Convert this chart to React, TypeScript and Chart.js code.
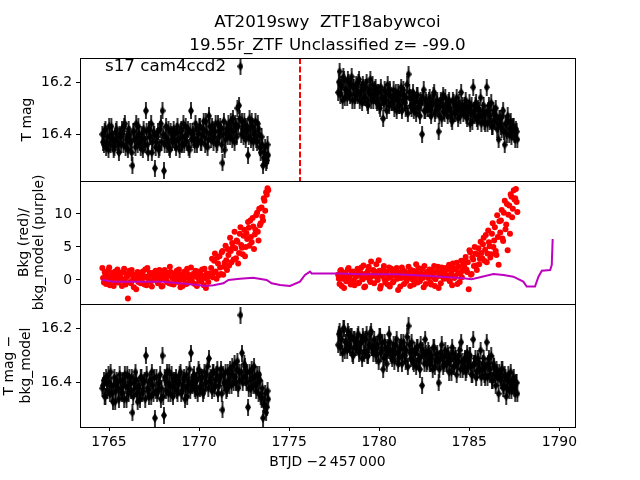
import React, { useEffect, useRef } from "react";
import { Chart, registerables } from "chart.js";

Chart.register(...registerables);

// ---------------- data ----------------
const TITLE_LINES = ["AT2019swy  ZTF18abywcoi", "19.55r_ZTF Unclassified z= -99.0"];
const SECTOR_LABEL = "s17 cam4ccd2";
const X_LABEL = "BTJD \u22122\u2009457\u2009000";
const Y1_LABEL = "T mag";
const Y2_LABEL = ["Bkg (red)/", "bkg_model (purple)"];
const Y3_LABEL = ["T mag \u2212", "bkg_model"];

const X_TICKS = [1765, 1770, 1775, 1780, 1785, 1790];
const MAG_TICKS = [16.2, 16.4];
const BKG_TICKS = [0, 5, 10];
const DISCOVERY_T = 1775.6;

// orbit 1 timestamps (two interleaved cadence sets)
const T_SEG1 = [
  1764.63, 1764.72, 1764.80, 1764.88, 1764.97, 1765.05, 1765.13, 1765.22, 1765.30, 1765.38, 1765.47, 1765.55,
  1765.63, 1765.72, 1765.80, 1765.88, 1765.97, 1766.05, 1766.13, 1766.22, 1766.30, 1766.38, 1766.47, 1766.55,
  1766.63, 1766.72, 1766.80, 1766.88, 1766.97, 1767.05, 1767.13, 1767.22, 1767.30, 1767.38, 1767.47, 1767.55,
  1767.63, 1767.72, 1767.80, 1767.88, 1767.97, 1768.05, 1768.13, 1768.22, 1768.30, 1768.38, 1768.47, 1768.55,
  1768.63, 1768.72, 1768.80, 1768.88, 1768.97, 1769.05, 1769.13, 1769.22, 1769.30, 1769.38, 1769.47, 1769.55,
  1769.63, 1769.72, 1769.80, 1769.88, 1769.97, 1770.05, 1770.13, 1770.22, 1770.30, 1770.38, 1770.47, 1770.55,
  1770.63, 1770.72, 1770.80, 1770.88, 1770.97, 1771.05, 1771.13, 1771.22, 1771.30, 1771.38, 1771.47, 1771.55,
  1771.63, 1771.72, 1771.80, 1771.88, 1771.97, 1772.05, 1772.13, 1772.22, 1772.30, 1772.38, 1772.47, 1772.55,
  1772.63, 1772.72, 1772.80, 1772.88, 1772.97, 1773.05, 1773.13, 1773.22, 1773.30, 1773.38, 1773.47, 1773.55,
  1773.63, 1773.72, 1773.80,
];
const T_SEG1_B = [
  1764.67, 1764.76, 1764.84, 1764.92, 1765.01, 1765.09, 1765.17, 1765.26, 1765.34, 1765.42, 1765.51, 1765.59,
  1765.67, 1765.76, 1765.84, 1765.92, 1766.01, 1766.09, 1766.17, 1766.26, 1766.34, 1766.42, 1766.51, 1766.59,
  1766.67, 1766.76, 1766.84, 1766.92, 1767.01, 1767.09, 1767.17, 1767.26, 1767.34, 1767.42, 1767.51, 1767.59,
  1767.67, 1767.76, 1767.84, 1767.92, 1768.01, 1768.09, 1768.17, 1768.26, 1768.34, 1768.42, 1768.51, 1768.59,
  1768.67, 1768.76, 1768.84, 1768.92, 1769.01, 1769.09, 1769.17, 1769.26, 1769.34, 1769.42, 1769.51, 1769.59,
  1769.67, 1769.76, 1769.84, 1769.92, 1770.01, 1770.09, 1770.17, 1770.26, 1770.34, 1770.42, 1770.51, 1770.59,
  1770.67, 1770.76, 1770.84, 1770.92, 1771.01, 1771.09, 1771.17, 1771.26, 1771.34, 1771.42, 1771.51, 1771.59,
  1771.67, 1771.76, 1771.84, 1771.92, 1772.01, 1772.09, 1772.17, 1772.26, 1772.34, 1772.42, 1772.51, 1772.59,
  1772.67, 1772.76, 1772.84, 1772.92, 1773.01, 1773.09, 1773.17, 1773.26, 1773.34, 1773.42, 1773.51, 1773.59,
  1773.67, 1773.76, 1773.84,
];

// orbit 2 timestamps
const T_SEG2 = [
  1777.72, 1777.80, 1777.88, 1777.97, 1778.05, 1778.13, 1778.22, 1778.30, 1778.38, 1778.47, 1778.55, 1778.63,
  1778.72, 1778.80, 1778.88, 1778.97, 1779.05, 1779.13, 1779.22, 1779.30, 1779.38, 1779.47, 1779.55, 1779.63,
  1779.72, 1779.80, 1779.88, 1779.97, 1780.05, 1780.13, 1780.22, 1780.30, 1780.38, 1780.47, 1780.55, 1780.63,
  1780.72, 1780.80, 1780.88, 1780.97, 1781.05, 1781.13, 1781.22, 1781.30, 1781.38, 1781.47, 1781.55, 1781.63,
  1781.72, 1781.80, 1781.88, 1781.97, 1782.05, 1782.13, 1782.22, 1782.30, 1782.38, 1782.47, 1782.55, 1782.63,
  1782.72, 1782.80, 1782.88, 1782.97, 1783.05, 1783.13, 1783.22, 1783.30, 1783.38, 1783.47, 1783.55, 1783.63,
  1783.72, 1783.80, 1783.88, 1783.97, 1784.05, 1784.13, 1784.22, 1784.30, 1784.38, 1784.47, 1784.55, 1784.63,
  1784.72, 1784.80, 1784.88, 1784.97, 1785.05, 1785.13, 1785.22, 1785.30, 1785.38, 1785.47, 1785.55, 1785.63,
  1785.72, 1785.80, 1785.88, 1785.97, 1786.05, 1786.13, 1786.22, 1786.30, 1786.38, 1786.47, 1786.55, 1786.63,
  1786.72, 1786.80, 1786.88, 1786.97, 1787.05, 1787.13, 1787.22, 1787.30, 1787.38, 1787.47, 1787.55, 1787.63,
];
const T_SEG2_B = [
  1777.76, 1777.84, 1777.92, 1778.01, 1778.09, 1778.17, 1778.26, 1778.34, 1778.42, 1778.51, 1778.59, 1778.67,
  1778.76, 1778.84, 1778.92, 1779.01, 1779.09, 1779.17, 1779.26, 1779.34, 1779.42, 1779.51, 1779.59, 1779.67,
  1779.76, 1779.84, 1779.92, 1780.01, 1780.09, 1780.17, 1780.26, 1780.34, 1780.42, 1780.51, 1780.59, 1780.67,
  1780.76, 1780.84, 1780.92, 1781.01, 1781.09, 1781.17, 1781.26, 1781.34, 1781.42, 1781.51, 1781.59, 1781.67,
  1781.76, 1781.84, 1781.92, 1782.01, 1782.09, 1782.17, 1782.26, 1782.34, 1782.42, 1782.51, 1782.59, 1782.67,
  1782.76, 1782.84, 1782.92, 1783.01, 1783.09, 1783.17, 1783.26, 1783.34, 1783.42, 1783.51, 1783.59, 1783.67,
  1783.76, 1783.84, 1783.92, 1784.01, 1784.09, 1784.17, 1784.26, 1784.34, 1784.42, 1784.51, 1784.59, 1784.67,
  1784.76, 1784.84, 1784.92, 1785.01, 1785.09, 1785.17, 1785.26, 1785.34, 1785.42, 1785.51, 1785.59, 1785.67,
  1785.76, 1785.84, 1785.92, 1786.01, 1786.09, 1786.17, 1786.26, 1786.34, 1786.42, 1786.51, 1786.59, 1786.67,
  1786.76, 1786.84, 1786.92, 1787.01, 1787.09, 1787.17, 1787.26, 1787.34, 1787.42, 1787.51, 1787.59, 1787.67,
];

// panel 1: T mag
const MAG_SEG1 = [
  16.40, 16.44, 16.38, 16.43, 16.46, 16.41, 16.37, 16.42, 16.45, 16.39, 16.43, 16.47,
  16.41, 16.38, 16.44, 16.36, 16.42, 16.46, 16.40, 16.43, 16.52, 16.39, 16.45, 16.41,
  16.37, 16.43, 16.40, 16.46, 16.42, 16.31, 16.44, 16.38, 16.41, 16.47, 16.39, 16.53,
  16.43, 16.39, 16.45, 16.36, 16.31, 16.54, 16.41, 16.44, 16.38, 16.46, 16.40, 16.42,
  16.40, 16.45, 16.37, 16.42, 16.39, 16.44, 16.36, 16.41, 16.43, 16.38, 16.46, 16.31,
  16.39, 16.42, 16.36, 16.44, 16.40, 16.37, 16.43, 16.38, 16.41, 16.35, 16.45, 16.33,
  16.40, 16.37, 16.43, 16.39, 16.44, 16.36, 16.41, 16.38, 16.51, 16.35, 16.42, 16.39,
  16.36, 16.41, 16.38, 16.34, 16.43, 16.37, 16.30, 16.29, 16.14, 16.35, 16.41, 16.37,
  16.39, 16.48, 16.34, 16.42, 16.37, 16.40, 16.35, 16.43, 16.38, 16.45, 16.41, 16.52,
  16.47, 16.51, 16.44,
];
const MAG_SEG1_B = [
  16.43, 16.39, 16.45, 16.41, 16.37, 16.44, 16.40, 16.46, 16.42, 16.38, 16.44, 16.40,
  16.44, 16.40, 16.37, 16.45, 16.41, 16.38, 16.43, 16.47, 16.39, 16.42, 16.36, 16.44,
  16.40, 16.45, 16.42, 16.38, 16.44, 16.39, 16.47, 16.41, 16.36, 16.43, 16.40, 16.45,
  16.41, 16.46, 16.38, 16.43, 16.40, 16.44, 16.37, 16.42, 16.45, 16.39, 16.43, 16.38,
  16.43, 16.39, 16.42, 16.46, 16.38, 16.41, 16.44, 16.37, 16.40, 16.45, 16.39, 16.42,
  16.40, 16.44, 16.38, 16.42, 16.37, 16.43, 16.40, 16.35, 16.44, 16.39, 16.42, 16.37,
  16.42, 16.38, 16.41, 16.36, 16.43, 16.39, 16.37, 16.44, 16.40, 16.46, 16.38, 16.41,
  16.38, 16.35, 16.42, 16.39, 16.36, 16.41, 16.37, 16.34, 16.40, 16.38, 16.35, 16.42,
  16.37, 16.41, 16.38, 16.35, 16.43, 16.39, 16.42, 16.36, 16.40, 16.47, 16.44, 16.49,
  16.45, 16.50, 16.48,
];
const MAG_SEG2 = [
  16.24, 16.16, 16.21, 16.27, 16.19, 16.23, 16.26, 16.20, 16.25, 16.18, 16.22, 16.27,
  16.21, 16.25, 16.19, 16.24, 16.28, 16.22, 16.26, 16.20, 16.29, 16.23, 16.27, 16.21,
  16.25, 16.22, 16.28, 16.24, 16.30, 16.26, 16.34, 16.23, 16.27, 16.21, 16.29, 16.25,
  16.28, 16.23, 16.26, 16.31, 16.24, 16.29, 16.22, 16.27, 16.25, 16.30, 16.21, 16.17,
  16.26, 16.30, 16.24, 16.28, 16.32, 16.25, 16.29, 16.27, 16.40, 16.23, 16.31, 16.28,
  16.30, 16.26, 16.33, 16.28, 16.24, 16.31, 16.27, 16.39, 16.29, 16.34, 16.25, 16.32,
  16.29, 16.33, 16.27, 16.31, 16.35, 16.28, 16.32, 16.26, 16.34, 16.30, 16.24, 16.29,
  16.31, 16.27, 16.34, 16.30, 16.36, 16.29, 16.22, 16.33, 16.28, 16.35, 16.31, 16.26,
  16.33, 16.29, 16.36, 16.22, 16.31, 16.35, 16.28, 16.37, 16.32, 16.30, 16.38, 16.42,
  16.34, 16.38, 16.31, 16.44, 16.36, 16.33, 16.40, 16.35, 16.39, 16.37, 16.42, 16.39,
];
const MAG_SEG2_B = [
  16.20, 16.25, 16.22, 16.18, 16.26, 16.23, 16.19, 16.24, 16.21, 16.27, 16.22, 16.25,
  16.24, 16.20, 16.27, 16.23, 16.21, 16.26, 16.22, 16.28, 16.24, 16.19, 16.25, 16.27,
  16.23, 16.27, 16.24, 16.29, 16.22, 16.26, 16.28, 16.24, 16.31, 16.25, 16.23, 16.28,
  16.26, 16.30, 16.24, 16.27, 16.29, 16.25, 16.31, 16.23, 16.28, 16.26, 16.32, 16.24,
  16.29, 16.26, 16.31, 16.27, 16.25, 16.30, 16.33, 16.28, 16.26, 16.31, 16.27, 16.30,
  16.27, 16.31, 16.29, 16.25, 16.32, 16.28, 16.30, 16.33, 16.27, 16.29, 16.31, 16.26,
  16.31, 16.28, 16.30, 16.34, 16.27, 16.32, 16.29, 16.31, 16.28, 16.33, 16.30, 16.32,
  16.29, 16.33, 16.30, 16.28, 16.32, 16.35, 16.31, 16.29, 16.34, 16.30, 16.33, 16.36,
  16.31, 16.35, 16.32, 16.36, 16.29, 16.33, 16.37, 16.31, 16.35, 16.33, 16.36, 16.34,
  16.37, 16.33, 16.39, 16.36, 16.40, 16.35, 16.38, 16.41, 16.37, 16.40, 16.38, 16.42,
];

// panel 2: background (red points)
const BKG_SEG1 = [
  1.8, -0.4, 0.9, 0.2, 1.5, -0.8, 0.5, 1.1, -0.2, 0.7, 1.6, 0.0,
  0.4, -0.9, 1.2, 0.1, 0.6, -2.8, 1.4, -0.5, 0.8, -1.1, 0.3, 1.0,
  -0.3, 0.9, 0.2, 1.3, -0.7, 0.5, 1.8, -0.1, 0.7, -1.0, 1.1, 0.4,
  0.8, -0.5, 1.5, 0.1, -0.9, 0.6, 1.2, -0.3, 0.9, 2.0, -0.6, 0.3,
  1.0, -0.2, 0.5, 1.6, -1.1, 0.7, 0.0, 1.3, -0.6, 0.9, 0.2, 1.9,
  -0.4, 0.8, 1.4, -0.9, 0.3, 1.1, -0.2, 0.6, 1.7, -1.2, 0.4, 1.0,
  0.6, 3.2, 1.1, 4.0, 0.2, 2.5, 3.6, 0.9, 4.4, 2.0, 5.2, 1.5,
  3.8, 6.4, 2.7, 5.0, 7.3, 3.3, 5.8, 4.1, 8.0, 4.9, 6.7, 3.6,
  7.1, 8.8, 5.2, 6.5, 9.4, 4.7, 7.6, 10.2, 6.0, 8.3, 11.0, 9.0,
  12.0, 13.3, 13.9,
];
const BKG_SEG1_B = [
  0.3, 1.2, -0.6, 0.8, 1.9, -0.1, 0.6, -0.9, 1.3, 0.4, -0.4, 0.9,
  1.1, 0.0, 1.7, -0.7, 0.5, 1.0, -0.3, 1.5, 0.2, 0.7, -1.4, 1.2,
  0.6, -0.5, 1.0, 0.3, 1.6, -0.8, 0.4, 1.1, -0.2, 0.9, 0.1, 1.4,
  -0.2, 1.1, 0.4, -1.0, 0.8, 1.5, 0.0, 0.6, -0.5, 1.2, 0.3, -0.7,
  0.5, 1.4, -0.3, 0.8, 0.1, -0.9, 1.2, 0.4, 1.7, -0.4, 0.6, 0.2,
  0.9, -0.6, 0.5, 1.3, -0.1, 0.7, 1.6, -0.8, 0.3, 1.0, -0.3, 0.8,
  1.8, 0.4, 2.9, 1.3, 3.4, 0.7, 1.9, 4.2, 0.8, 2.6, 3.0, 4.7,
  2.2, 4.4, 5.6, 3.1, 4.8, 6.0, 2.5, 7.0, 5.3, 3.9, 7.6, 5.0,
  6.2, 7.9, 9.0, 5.7, 8.1, 6.9, 9.8, 7.3, 10.8, 8.6, 9.6, 12.4,
  10.5, 12.9, 13.6,
];
const BKG_SEG2 = [
  0.8, -0.6, 1.5, 0.2, -1.2, 1.0, 0.4, 1.8, -0.3, 0.9, 1.3, -0.8,
  0.5, 1.7, -0.4, 1.1, 0.3, 2.2, -1.0, 0.7, 1.4, 0.0, 2.8, 0.6,
  -0.5, 1.2, 0.4, 3.0, -1.3, 0.8, 1.6, 0.1, 1.0, -0.7, 1.9, 0.5,
  1.3, -0.2, 0.7, 1.8, -1.5, 0.9, 0.3, 1.5, -0.6, 1.1, 0.2, 2.0,
  -0.9, 0.6, 1.4, 0.0, 2.4, -0.4, 1.0, 0.5, 1.7, -1.1, 0.8, 1.2,
  0.3, 1.6, -0.7, 0.9, 2.1, 0.1, 1.3, -1.2, 0.7, 1.9, 0.4, 1.1,
  1.5, 0.2, 2.3, 0.8, -0.8, 1.8, 0.6, 2.6, 1.0, -0.3, 2.9, 1.4,
  2.0, 3.5, 1.2, -1.4, 4.2, 0.9, 3.1, 5.0, 2.2, 3.9, 2.4, 5.8,
  3.3, 6.4, 4.6, 2.7, 7.5, 5.1, 3.9, 8.6, 6.0, 4.4, 9.8, 2.3,
  7.2, 10.6, 5.9, 12.0, 8.4, 4.5, 11.3, 13.0, 9.5, 13.6, 12.4, 11.8,
];
const BKG_SEG2_B = [
  0.2, 1.4, -0.9, 0.7, 1.1, -0.2, 1.6, 0.5, -0.7, 1.2, 0.0, 0.9,
  1.3, -0.5, 0.8, 1.9, 0.1, -1.1, 1.0, 0.4, 2.0, -0.3, 0.7, 1.5,
  0.9, 2.4, 0.0, 1.4, -0.9, 0.6, 2.1, -0.4, 1.2, 0.3, -1.0, 1.7,
  -0.4, 0.8, 1.6, 0.2, 1.1, -1.0, 1.9, 0.5, 1.3, -0.2, 0.9, 0.4,
  1.5, 0.1, -0.7, 1.2, 0.6, 1.8, -0.2, 1.0, 0.3, 2.1, -0.6, 0.7,
  1.0, -0.4, 1.5, 0.4, -0.9, 1.2, 2.0, 0.6, -0.5, 1.4, 0.2, 1.8,
  0.6, 1.9, -0.2, 1.2, 2.5, 0.3, 1.6, -0.6, 2.0, 1.1, 0.4, 2.4,
  3.0, 1.6, 2.7, 4.5, 0.8, 3.4, 2.1, 4.0, 1.5, 4.8, 3.2, 4.1,
  5.4, 2.9, 6.8, 4.0, 5.7, 3.4, 7.0, 5.0, 8.0, 3.8, 6.5, 8.9,
  9.0, 6.3, 10.2, 7.7, 11.5, 9.9, 7.0, 12.6, 10.8, 12.2, 13.8, 10.3,
];

// panel 2: background model (purple line)
const MODEL_T = [
  1764.63, 1765.25, 1766.2, 1768.0, 1768.94, 1769.7, 1770.4, 1770.8, 1771.35, 1771.63, 1772.27, 1773.0,
  1773.75, 1774.03, 1774.5, 1775.05, 1775.6, 1775.88, 1776.16, 1776.25, 1777.64, 1779.12, 1780.97, 1782.82,
  1784.67, 1785.14, 1786.34, 1786.9, 1787.45, 1788.0, 1788.19, 1788.65, 1788.84, 1789.03, 1789.49, 1789.58,
  1789.63,
];
const MODEL_V = [
  0.0, -0.25, -0.25, -0.25, -0.5, -0.7, -0.9, -0.8, -0.5, 0.0, 0.2, 0.35,
  0.0, -0.5, -0.76, -0.9, -0.25, 0.76, 1.26, 1.0, 1.0, 0.85, 0.85, 0.6,
  0.25, 0.1, 0.9, 0.75, 0.5, -0.25, -1.0, -1.0, 0.5, 1.4, 1.5, 2.27,
  6.2,
];

// panel 3: T mag - bkg_model
const CORR_SEG1 = [
  16.42, 16.39, 16.45, 16.40, 16.37, 16.44, 16.41, 16.47, 16.38, 16.43, 16.40, 16.46,
  16.39, 16.44, 16.41, 16.37, 16.46, 16.42, 16.38, 16.43, 16.51, 16.40, 16.36, 16.44,
  16.41, 16.46, 16.38, 16.43, 16.39, 16.30, 16.42, 16.45, 16.40, 16.36, 16.44, 16.53,
  16.38, 16.43, 16.40, 16.46, 16.30, 16.52, 16.39, 16.36, 16.44, 16.41, 16.37, 16.45,
  16.42, 16.38, 16.44, 16.40, 16.36, 16.43, 16.39, 16.46, 16.37, 16.41, 16.35, 16.29,
  16.41, 16.37, 16.43, 16.39, 16.35, 16.42, 16.38, 16.44, 16.36, 16.40, 16.34, 16.31,
  16.38, 16.43, 16.36, 16.41, 16.37, 16.44, 16.39, 16.35, 16.50, 16.40, 16.36, 16.42,
  16.39, 16.35, 16.41, 16.37, 16.33, 16.40, 16.32, 16.36, 16.15, 16.29, 16.38, 16.34,
  16.40, 16.49, 16.36, 16.42, 16.38, 16.34, 16.41, 16.37, 16.44, 16.39, 16.46, 16.53,
  16.48, 16.51, 16.43,
];
const CORR_SEG1_B = [
  16.41, 16.45, 16.38, 16.43, 16.40, 16.36, 16.44, 16.41, 16.47, 16.39, 16.42, 16.37,
  16.43, 16.39, 16.46, 16.41, 16.37, 16.44, 16.40, 16.38, 16.45, 16.42, 16.39, 16.47,
  16.42, 16.38, 16.44, 16.40, 16.46, 16.37, 16.43, 16.39, 16.45, 16.41, 16.38, 16.43,
  16.44, 16.40, 16.37, 16.42, 16.45, 16.38, 16.43, 16.40, 16.36, 16.44, 16.41, 16.39,
  16.39, 16.43, 16.40, 16.37, 16.44, 16.41, 16.38, 16.42, 16.45, 16.39, 16.43, 16.40,
  16.38, 16.42, 16.39, 16.44, 16.36, 16.41, 16.38, 16.43, 16.40, 16.37, 16.42, 16.39,
  16.40, 16.36, 16.42, 16.39, 16.35, 16.41, 16.38, 16.44, 16.37, 16.40, 16.43, 16.36,
  16.41, 16.37, 16.34, 16.40, 16.38, 16.35, 16.42, 16.39, 16.36, 16.40, 16.33, 16.38,
  16.36, 16.42, 16.39, 16.35, 16.41, 16.38, 16.43, 16.40, 16.37, 16.45, 16.42, 16.48,
  16.44, 16.49, 16.46,
];
const CORR_SEG2 = [
  16.26, 16.21, 16.24, 16.29, 16.20, 16.25, 16.28, 16.22, 16.27, 16.23, 16.30, 16.24,
  16.27, 16.23, 16.29, 16.25, 16.31, 16.24, 16.28, 16.22, 16.30, 16.26, 16.21, 16.27,
  16.24, 16.29, 16.26, 16.32, 16.23, 16.28, 16.35, 16.25, 16.30, 16.27, 16.22, 16.29,
  16.31, 16.26, 16.29, 16.24, 16.33, 16.28, 16.25, 16.30, 16.27, 16.32, 16.23, 16.19,
  16.29, 16.25, 16.32, 16.28, 16.34, 16.27, 16.31, 16.26, 16.41, 16.30, 16.24, 16.33,
  16.28, 16.33, 16.30, 16.35, 16.27, 16.32, 16.29, 16.40, 16.31, 16.26, 16.34, 16.30,
  16.33, 16.29, 16.36, 16.31, 16.27, 16.34, 16.30, 16.37, 16.32, 16.28, 16.25, 16.35,
  16.32, 16.36, 16.29, 16.34, 16.30, 16.37, 16.24, 16.33, 16.38, 16.31, 16.35, 16.28,
  16.35, 16.31, 16.38, 16.25, 16.33, 16.37, 16.30, 16.39, 16.34, 16.41, 16.36, 16.44,
  16.38, 16.35, 16.42, 16.37, 16.45, 16.39, 16.43, 16.36, 16.41, 16.38, 16.44, 16.40,
];
const CORR_SEG2_B = [
  16.22, 16.27, 16.24, 16.20, 16.28, 16.25, 16.21, 16.26, 16.23, 16.29, 16.24, 16.27,
  16.26, 16.22, 16.28, 16.25, 16.23, 16.29, 16.24, 16.30, 16.26, 16.22, 16.27, 16.29,
  16.26, 16.30, 16.27, 16.23, 16.29, 16.25, 16.31, 16.27, 16.33, 16.28, 16.25, 16.30,
  16.28, 16.32, 16.26, 16.29, 16.31, 16.27, 16.33, 16.25, 16.30, 16.28, 16.34, 16.26,
  16.31, 16.28, 16.33, 16.29, 16.27, 16.32, 16.35, 16.30, 16.28, 16.33, 16.29, 16.32,
  16.29, 16.33, 16.31, 16.27, 16.34, 16.30, 16.32, 16.35, 16.29, 16.31, 16.33, 16.28,
  16.33, 16.30, 16.32, 16.36, 16.29, 16.34, 16.31, 16.33, 16.30, 16.35, 16.32, 16.34,
  16.31, 16.35, 16.32, 16.30, 16.34, 16.37, 16.33, 16.31, 16.36, 16.32, 16.35, 16.38,
  16.33, 16.37, 16.34, 16.38, 16.31, 16.35, 16.39, 16.33, 16.37, 16.35, 16.38, 16.36,
  16.39, 16.35, 16.41, 16.38, 16.42, 16.37, 16.40, 16.43, 16.39, 16.42, 16.40, 16.44,
];

// ---------------- styling ----------------
const FONT = "DejaVu Sans";
const W = 640;
const H = 480;
const PLOT_LEFT = 80;
const PLOT_RIGHT = 575;
const X_RANGE = [1763.39, 1790.87];
const MAG1_RANGE = [16.108, 16.579];
const BKG_RANGE = [-3.64, 15.0];
const MAG3_RANGE = [16.109, 16.563];

const pts = (t: number[], v: number[]) => t.map((x, i) => ({ x, y: v[i] }));

function makeErrMarker(): HTMLCanvasElement {
  const c = document.createElement("canvas");
  c.width = 6;
  c.height = 17;
  const g = c.getContext("2d")!;
  g.fillStyle = "#000";
  g.fillRect(2.2, 0, 1.6, 17);
  g.beginPath();
  g.moveTo(3, 3.5);
  g.lineTo(6, 8.5);
  g.lineTo(3, 13.5);
  g.lineTo(0, 8.5);
  g.closePath();
  g.fill();
  return c;
}

const framePlugin = {
  id: "frame",
  afterDraw(chart: any) {
    const { ctx, chartArea: a } = chart;
    ctx.save();
    ctx.strokeStyle = "#000";
    ctx.lineWidth = 1;
    ctx.strokeRect(Math.round(a.left) + 0.5, Math.round(a.top) + 0.5, Math.round(a.right - a.left), Math.round(a.bottom - a.top));
    ctx.restore();
  },
};

function makeOptions(cfg: {
  top: number;
  bottom: number;
  yRange: number[];
  reverse: boolean;
  yTicks: number[];
  yFmt: (v: number) => string;
  yTitle: string | string[];
  titlePad: number;
  titleLH: number;
  showX: boolean;
}) {
  const tickFont = { family: FONT, size: 13.9 };
  const xScale: any = {
    type: "linear",
    min: X_RANGE[0],
    max: X_RANGE[1],
    display: cfg.showX,
    afterBuildTicks: (s: any) => {
      s.ticks = X_TICKS.map((v) => ({ value: v }));
    },
    grid: { drawOnChartArea: false, drawTicks: true, tickLength: 4, color: "#000", lineWidth: 1 },
    border: { display: false },
    ticks: {
      font: tickFont,
      color: "#000",
      padding: 3,
      maxRotation: 0,
      autoSkip: false,
      callback: (v: number) => String(v),
    },
    title: {
      display: true,
      text: X_LABEL,
      font: { family: FONT, size: 13.9, lineHeight: 1.2 },
      color: "#000",
      padding: { top: 0, bottom: 9 },
    },
  };
  if (cfg.showX) {
    xScale.afterFit = (s: any) => {
      s.height = 53;
    };
  }
  return {
    responsive: false,
    animation: false,
    devicePixelRatio: 1,
    layout: { padding: { left: 0, right: W - PLOT_RIGHT, top: cfg.top, bottom: cfg.bottom } },
    plugins: { legend: { display: false }, tooltip: { enabled: false }, title: { display: false } },
    scales: {
      x: xScale,
      y: {
        type: "linear",
        min: cfg.yRange[0],
        max: cfg.yRange[1],
        reverse: cfg.reverse,
        afterBuildTicks: (s: any) => {
          s.ticks = cfg.yTicks.map((v) => ({ value: v }));
        },
        afterFit: (s: any) => {
          s.width = PLOT_LEFT;
        },
        grid: { drawOnChartArea: false, drawTicks: true, tickLength: 4, color: "#000", lineWidth: 1 },
        border: { display: false },
        ticks: { font: tickFont, color: "#000", padding: 4, callback: (v: number) => cfg.yFmt(v) },
        title: {
          display: true,
          text: cfg.yTitle,
          font: { family: FONT, size: 13.9, lineHeight: cfg.titleLH },
          color: "#000",
          padding: { top: cfg.titlePad, bottom: 0 },
        },
      },
    },
  } as any;
}

export default function App() {
  const c1 = useRef<HTMLCanvasElement>(null);
  const c2 = useRef<HTMLCanvasElement>(null);
  const c3 = useRef<HTMLCanvasElement>(null);

  useEffect(() => {
    const marker = makeErrMarker();
    const magFmt = (v: number) => v.toFixed(1);

    const annotPlugin = {
      id: "annot",
      afterDatasetsDraw(chart: any) {
        const { ctx, chartArea: a, scales } = chart;
        const x = Math.round(scales.x.getPixelForValue(DISCOVERY_T));
        ctx.save();
        ctx.strokeStyle = "#ff0000";
        ctx.lineWidth = 2;
        ctx.setLineDash([6, 2.5]);
        ctx.beginPath();
        ctx.moveTo(x, a.top);
        ctx.lineTo(x, a.bottom);
        ctx.stroke();
        ctx.restore();
      },
      afterDraw(chart: any) {
        const { ctx, chartArea: a } = chart;
        ctx.save();
        ctx.fillStyle = "#000";
        ctx.textBaseline = "alphabetic";
        ctx.font = `16.7px "${FONT}"`;
        ctx.textAlign = "center";
        const cx = (a.left + a.right) / 2;
        ctx.fillText(TITLE_LINES[0], cx, 26.5);
        ctx.fillText(TITLE_LINES[1], cx, 49.5);
        ctx.textAlign = "left";
        ctx.fillText(SECTOR_LABEL, 105, 71);
        ctx.restore();
      },
    };

    const magDataset = (t: number[], v: number[]) => ({
      type: "scatter",
      data: pts(t, v),
      pointStyle: marker,
      pointRadius: 3,
      showLine: false,
    });

    const ch1 = new Chart(c1.current!, {
      type: "scatter",
      data: {
        datasets: [
          magDataset(T_SEG1, MAG_SEG1),
          magDataset(T_SEG1_B, MAG_SEG1_B),
          magDataset(T_SEG2, MAG_SEG2),
          magDataset(T_SEG2_B, MAG_SEG2_B),
        ] as any,
      },
      options: makeOptions({
        top: 58,
        bottom: H - 181,
        yRange: MAG1_RANGE,
        reverse: true,
        yTicks: MAG_TICKS,
        yFmt: magFmt,
        yTitle: Y1_LABEL,
        titlePad: 19,
        titleLH: 1.2,
        showX: false,
      }),
      plugins: [framePlugin, annotPlugin],
    });

    const redDataset = (t: number[], v: number[]) => ({
      type: "scatter",
      data: pts(t, v),
      pointStyle: "circle",
      pointRadius: 3,
      backgroundColor: "#ff0000",
      borderColor: "#ff0000",
      borderWidth: 0,
      showLine: false,
      order: 1,
    });

    const ch2 = new Chart(c2.current!, {
      type: "scatter",
      data: {
        datasets: [
          {
            type: "line",
            data: pts(MODEL_T, MODEL_V),
            borderColor: "#bf00bf",
            borderWidth: 2,
            pointRadius: 0,
            tension: 0,
            fill: false,
            order: 0,
          },
          redDataset(T_SEG1, BKG_SEG1),
          redDataset(T_SEG1_B, BKG_SEG1_B),
          redDataset(T_SEG2, BKG_SEG2),
          redDataset(T_SEG2_B, BKG_SEG2_B),
        ] as any,
      },
      options: makeOptions({
        top: 181,
        bottom: H - 304,
        yRange: BKG_RANGE,
        reverse: false,
        yTicks: BKG_TICKS,
        yFmt: (v: number) => String(v),
        yTitle: Y2_LABEL,
        titlePad: 17,
        titleLH: 1.05,
        showX: false,
      }),
      plugins: [framePlugin],
    });

    const ch3 = new Chart(c3.current!, {
      type: "scatter",
      data: {
        datasets: [
          magDataset(T_SEG1, CORR_SEG1),
          magDataset(T_SEG1_B, CORR_SEG1_B),
          magDataset(T_SEG2, CORR_SEG2),
          magDataset(T_SEG2_B, CORR_SEG2_B),
        ] as any,
      },
      options: makeOptions({
        top: 304,
        bottom: 0,
        yRange: MAG3_RANGE,
        reverse: true,
        yTicks: MAG_TICKS,
        yFmt: magFmt,
        yTitle: Y3_LABEL,
        titlePad: 1,
        titleLH: 1.2,
        showX: true,
      }),
      plugins: [framePlugin],
    });

    return () => {
      ch1.destroy();
      ch2.destroy();
      ch3.destroy();
    };
  }, []);

  const cs: React.CSSProperties = { position: "absolute", left: 0, top: 0, width: W, height: H };
  return (
    <div style={{ position: "absolute", left: 0, top: 0, width: W, height: H, background: "#fff" }}>
      <canvas ref={c1} width={W} height={H} style={cs} />
      <canvas ref={c2} width={W} height={H} style={cs} />
      <canvas ref={c3} width={W} height={H} style={cs} />
    </div>
  );
}
